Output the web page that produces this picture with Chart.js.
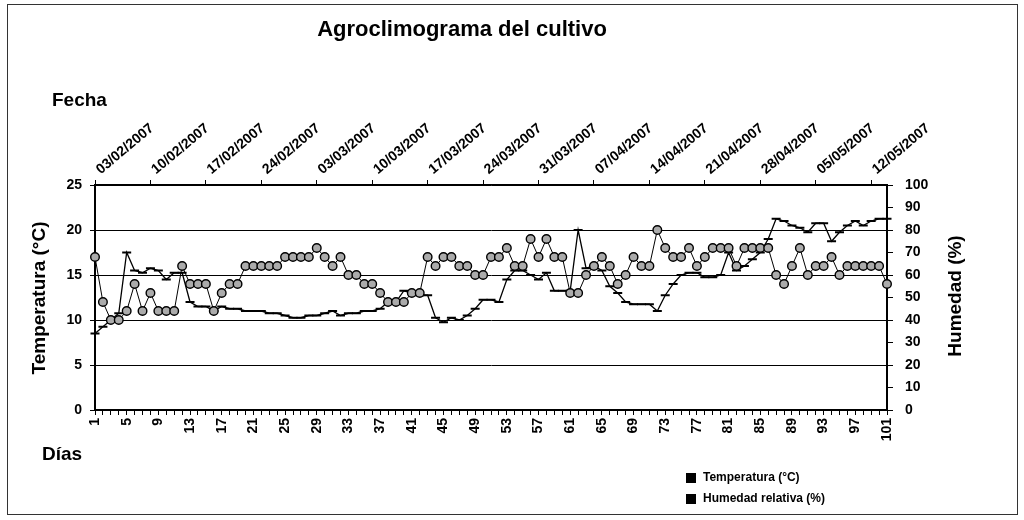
<!DOCTYPE html>
<html>
<head>
<meta charset="utf-8">
<script src="https://cdn.jsdelivr.net/npm/chart.js@4.4.1/dist/chart.umd.min.js"></script>
<style>
  html, body { margin: 0; padding: 0; background: #fff; }
  #grafico { display: block; }
</style>
</head>
<body>
<canvas id="grafico" width="1024" height="520"></canvas>
<script>
/* DATOS */

// días del ensayo (eje inferior)
var dias = Array.from({ length: 101 }, (_, i) => String(i + 1));

// temperatura media diaria (°C), eje izquierdo
var temperatura = [
    17, 12, 10, 10, 11, 14, 11, 13, 11, 11,
    11, 16, 14, 14, 14, 11, 13, 14, 14, 16,
    16, 16, 16, 16, 17, 17, 17, 17, 18, 17,
    16, 17, 15, 15, 14, 14, 13, 12, 12, 12,
    13, 13, 17, 16, 17, 17, 16, 16, 15, 15,
    17, 17, 18, 16, 16, 19, 17, 19, 17, 17,
    13, 13, 15, 16, 17, 16, 14, 15, 17, 16,
    16, 20, 18, 17, 17, 18, 16, 17, 18, 18,
    18, 16, 18, 18, 18, 18, 15, 14, 16, 18,
    15, 16, 16, 17, 15, 16, 16, 16, 16, 16,
    14
];

// humedad relativa (%), eje derecho
var humedad = [
    34, 37, 40, 43, 70, 62, 61, 63, 62, 58,
    61, 61, 48, 46, 46, 44, 46, 45, 45, 44,
    44, 44, 43, 43, 42, 41, 41, 42, 42, 43,
    44, 42, 43, 43, 44, 44, 45, 48, 48, 53,
    52, 51, 51, 41, 39, 41, 40, 42, 45, 49,
    49, 48, 58, 62, 62, 60, 58, 61, 53, 53,
    53, 80, 63, 64, 62, 55, 52, 48, 47, 47,
    47, 44, 51, 56, 60, 61, 61, 59, 59, 60,
    70, 62, 64, 67, 70, 76, 85, 84, 82, 81,
    79, 83, 83, 75, 79, 82, 84, 82, 84, 85,
    85
];

// eje superior: fechas semanales y el día al que corresponden
var fechas = ['03/02/2007', '10/02/2007', '17/02/2007', '24/02/2007', '03/03/2007',
    '10/03/2007', '17/03/2007', '24/03/2007', '31/03/2007', '07/04/2007',
    '14/04/2007', '21/04/2007', '28/04/2007', '05/05/2007', '12/05/2007'];
var diaFecha = [1, 8, 15, 22, 29, 36, 43, 50, 57, 64, 71, 78, 85, 92, 99];

// marcas de los ejes
var ticksTemp = { min: 0, max: 25, step: 5 };
var ticksHum = { min: 0, max: 100, step: 10 };

/* TEXTOS FIJOS (título, títulos de ejes, leyenda, marco) */

var FUENTE = '"Liberation Sans", Arial, sans-serif';

var textosPlugin = {
    id: 'textos',
    beforeDraw(chart) {
        var ctx = chart.ctx;
        ctx.save();
        ctx.strokeStyle = '#333';
        ctx.lineWidth = 1;
        ctx.strokeRect(7.5, 4.5, 1010, 510);
        ctx.restore();
    },
    afterDraw(chart) {
        var ctx = chart.ctx;
        ctx.save();
        ctx.fillStyle = '#000';
        ctx.textBaseline = 'middle';

        ctx.font = 'bold 22px ' + FUENTE;
        ctx.textAlign = 'center';
        ctx.fillText('Agroclimograma del cultivo', 462, 30);

        ctx.font = 'bold 19px ' + FUENTE;
        ctx.textAlign = 'left';
        ctx.fillText('Fecha', 52, 101);
        ctx.fillText('Días', 42, 455);

        ctx.save();
        ctx.translate(40, 298);
        ctx.rotate(-Math.PI / 2);
        ctx.textAlign = 'center';
        ctx.fillText('Temperatura (°C)', 0, 0);
        ctx.restore();

        ctx.save();
        ctx.translate(956, 296);
        ctx.rotate(-Math.PI / 2);
        ctx.textAlign = 'center';
        ctx.fillText('Humedad (%)', 0, 0);
        ctx.restore();

        // leyenda
        ctx.font = 'bold 12px ' + FUENTE;
        ctx.textAlign = 'left';
        chart.data.datasets.forEach((ds, i) => {
            var y = 478 + i * 21;
            ctx.fillStyle = '#000';
            ctx.fillRect(686, y - 5, 10, 10);
            ctx.fillText(ds.label, 703, y);
        });
        ctx.restore();
    }
};

/* GRÁFICO */

Chart.defaults.font.family = FUENTE;
Chart.defaults.font.weight = 'bold';
Chart.defaults.color = '#000';

var ctx = document.getElementById('grafico').getContext('2d');

var grafico = new Chart(ctx, {
    type: 'line',
    data: {
        labels: dias,
        datasets: [
            {
                label: 'Temperatura (°C)',
                data: temperatura,
                yAxisID: 'y',
                xAxisID: 'x',
                borderColor: '#000',
                borderWidth: 1,
                pointRadius: 4.3,
                pointBackgroundColor: '#ababab',
                pointBorderColor: '#000',
                pointBorderWidth: 1.4,
                tension: 0,
                clip: 8
            },
            {
                label: 'Humedad relativa (%)',
                data: humedad,
                yAxisID: 'y1',
                xAxisID: 'x',
                borderColor: '#000',
                borderWidth: 1.3,
                pointStyle: 'line',
                pointRadius: 4.5,
                pointBorderColor: '#000',
                pointBorderWidth: 2,
                tension: 0,
                clip: 8
            }
        ]
    },
    options: {
        responsive: false,
        animation: false,
        layout: { padding: 0 },
        scales: {
            x: {
                type: 'category',
                position: 'bottom',
                afterFit: function (s) { s.height = 110; },
                border: { color: '#000', width: 1.5 },
                grid: {
                    drawOnChartArea: false,
                    color: '#000',
                    tickLength: 5
                },
                ticks: {
                    autoSkip: false,
                    minRotation: 90,
                    maxRotation: 90,
                    padding: 3,
                    font: { size: 14, weight: 'bold' },
                    callback: function (value, index) {
                        return index % 4 == 0 ? dias[index] : '';
                    }
                }
            },
            xTop: {
                type: 'linear',
                position: 'top',
                min: 1,
                max: 101,
                afterFit: function (s) { s.height = 185; },
                afterBuildTicks: function (s) {
                    s.ticks = diaFecha.map(d => ({ value: d }));
                },
                border: { color: '#000', width: 1.5 },
                grid: {
                    drawOnChartArea: false,
                    color: '#000',
                    tickLength: 5
                },
                ticks: {
                    autoSkip: false,
                    minRotation: 40,
                    maxRotation: 40,
                    padding: 2,
                    labelOffset: 14,
                    font: { size: 14, weight: 'bold' },
                    callback: function (value, index) {
                        return fechas[index];
                    }
                }
            },
            y: {
                position: 'left',
                min: ticksTemp.min,
                max: ticksTemp.max,
                afterFit: function (s) { s.width = 95; },
                border: { color: '#000', width: 2 },
                grid: {
                    color: '#000',
                    lineWidth: 1,
                    tickLength: 5
                },
                ticks: {
                    stepSize: ticksTemp.step,
                    padding: 8,
                    font: { size: 14, weight: 'bold' }
                }
            },
            y1: {
                position: 'right',
                min: ticksHum.min,
                max: ticksHum.max,
                afterFit: function (s) { s.width = 137; },
                border: { color: '#000', width: 2 },
                grid: {
                    drawOnChartArea: false,
                    color: '#000',
                    tickLength: 6
                },
                ticks: {
                    stepSize: ticksHum.step,
                    padding: 12,
                    font: { size: 14, weight: 'bold' }
                }
            }
        },
        plugins: {
            legend: { display: false },
            title: { display: false },
            tooltip: { enabled: false }
        }
    },
    plugins: [textosPlugin]
});
</script>
</body>
</html>
